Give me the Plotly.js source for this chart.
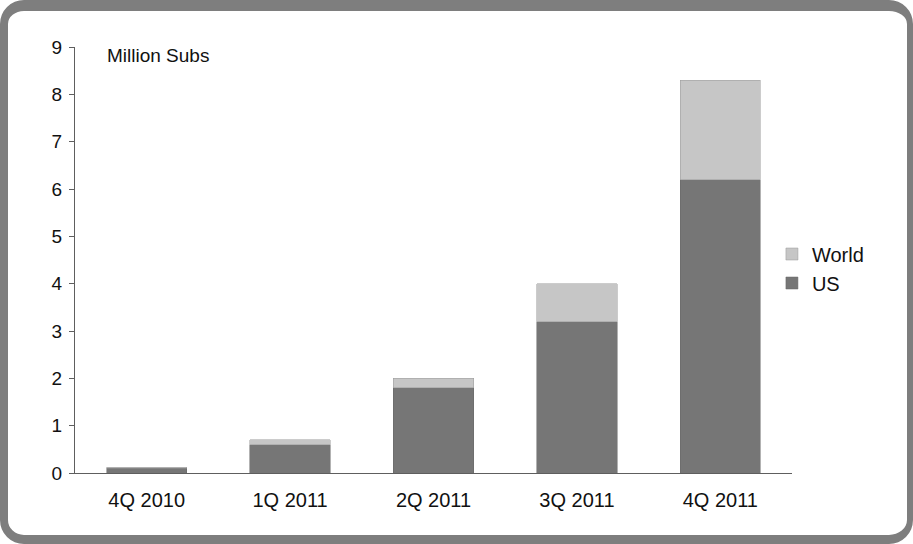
<!DOCTYPE html>
<html>
<head>
<meta charset="utf-8">
<script src="https://cdn.plot.ly/plotly-3.0.1.min.js"></script>
<style>
  html, body { margin: 0; padding: 0; background: #fff; }
  #wrap { position: relative; width: 913px; height: 544px; }
  #chart { position: absolute; left: 0; top: 0; width: 913px; height: 544px; }
  #frame {
    position: absolute; left: 0; top: 0; width: 913px; height: 544px;
    box-sizing: border-box; pointer-events: none;
    border-style: solid; border-color: #7e7e7e;
    border-width: 11px 6px 9px 8px;
    border-radius: 24px;
  }
</style>
</head>
<body>
<div id="wrap">
  <div id="chart"></div>
  <div id="frame"></div>
</div>
<script>
const categories = ["4Q 2010", "1Q 2011", "2Q 2011", "3Q 2011", "4Q 2011"];
const usValues = [0.1, 0.6, 1.8, 3.2, 6.2];
const worldValues = [0.02, 0.1, 0.2, 0.8, 2.1];
const seriesNames = ["US", "World"];
const yTicks = [0, 1, 2, 3, 4, 5, 6, 7, 8, 9];
const unitLabel = "Million Subs";

const fontFamily = "Arial, 'Liberation Sans', sans-serif";
const textColor = "#111111";

const traces = [
  {
    type: "bar", name: seriesNames[0], x: categories, y: usValues,
    marker: { color: "#767676", line: { color: "#666666", width: 0.5 } },
    hoverinfo: "x+y+name"
  },
  {
    type: "bar", name: seriesNames[1], x: categories, y: worldValues,
    marker: { color: "#c6c6c6", line: { color: "#999999", width: 0.5 } },
    hoverinfo: "x+y+name"
  }
];

const layout = {
  width: 913, height: 544,
  margin: { l: 75, r: 121, t: 47, b: 71, pad: 0 },
  paper_bgcolor: "#ffffff", plot_bgcolor: "#ffffff",
  barmode: "stack",
  bargap: 0.44,
  showlegend: true,
  legend: {
    x: 0.972, xanchor: "left", y: 0.48, yanchor: "middle",
    traceorder: "reversed",
    font: { family: fontFamily, size: 20, color: textColor },
    itemwidth: 30,
    tracegroupgap: 2,
    bgcolor: "rgba(0,0,0,0)"
  },
  font: { family: fontFamily, size: 19, color: textColor },
  xaxis: {
    type: "category",
    showline: true, linecolor: "#5e5e5e", linewidth: 1,
    showgrid: false, zeroline: false,
    ticks: "", tickfont: { family: fontFamily, size: 20, color: textColor },
    ticklabelstandoff: 9
  },
  yaxis: {
    range: [0, 9],
    tickvals: yTicks, ticktext: yTicks.map(String),
    showline: true, linecolor: "#5e5e5e", linewidth: 1,
    showgrid: false, zeroline: false,
    ticks: "outside", ticklen: 5, tickcolor: "#5e5e5e",
    ticklabelstandoff: 3,
    tickfont: { family: fontFamily, size: 19, color: textColor }
  },
  annotations: [
    {
      text: unitLabel, xref: "paper", yref: "paper",
      x: 0.042, y: 0.981, xanchor: "left", yanchor: "middle",
      showarrow: false,
      font: { family: fontFamily, size: 19, color: textColor }
    }
  ]
};

Plotly.newPlot("chart", traces, layout, { displayModeBar: false, staticPlot: true });
</script>
</body>
</html>
